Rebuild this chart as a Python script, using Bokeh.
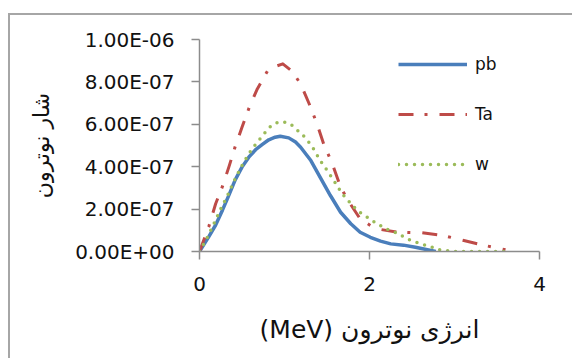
from bokeh.plotting import figure
from bokeh.models import Legend, LegendItem, CustomJSTickFormatter, FixedTicker, Range1d
from bokeh.embed import file_html
from bokeh.resources import INLINE

# ---- data, y values in units of 1e-7 ----
UNIT = 1e-7
pb_x = [0, 0.11, 0.19, 0.27, 0.345, 0.42, 0.50, 0.58, 0.66, 0.74, 0.815, 0.89, 0.95, 1.05, 1.13,
        1.19, 1.31, 1.42, 1.54, 1.66, 1.78, 1.89, 2.01, 2.13, 2.25, 2.40, 2.54, 2.78]
pb_y = [0, 0.70, 1.25, 1.95, 2.65, 3.38, 3.98, 4.45, 4.80, 5.05, 5.27, 5.39, 5.44, 5.36, 5.16,
        4.92, 4.29, 3.50, 2.64, 1.85, 1.31, 0.91, 0.67, 0.49, 0.36, 0.30, 0.20, 0]

ta_x = [0, 0.11, 0.19, 0.27, 0.345, 0.42, 0.50, 0.59, 0.68, 0.815, 0.98, 1.09, 1.19, 1.29, 1.38,
        1.46, 1.56, 1.66, 1.76, 1.89, 2.01, 2.13, 2.33, 2.62, 2.87, 3.11, 3.36, 3.60]
ta_y = [0, 1.18, 2.25, 3.07, 3.98, 4.95, 5.86, 6.85, 7.67, 8.62, 8.85, 8.50, 7.90, 6.97, 6.05,
        5.08, 4.17, 3.03, 2.33, 1.54, 1.23, 1.04, 0.91, 0.88, 0.75, 0.52, 0.28, 0.08]

w_x = [0, 0.09, 0.17, 0.25, 0.33, 0.40, 0.49, 0.58, 0.65, 0.73, 0.815, 0.89, 0.98, 1.07, 1.13,
       1.21, 1.27, 1.33, 1.42, 1.48, 1.58, 1.68, 1.80, 1.87, 2.03, 2.19, 2.33, 2.44, 2.53, 2.62,
       2.71, 2.80, 2.89, 2.99, 3.64]
w_y = [0, 0.65, 1.31, 2.01, 2.64, 3.27, 3.98, 4.61, 5.00, 5.40, 5.83, 6.05, 6.13, 6.02, 5.79,
       5.52, 5.24, 4.92, 4.29, 3.95, 3.35, 2.72, 2.17, 1.89, 1.46, 1.07, 0.86, 0.60, 0.47, 0.34,
       0.25, 0.09, 0.05, 0, 0]

x_ticks = [0, 2, 4]
y_ticks = [0, 2e-7, 4e-7, 6e-7, 8e-7, 1e-6]
series_names = ["pb", "Ta", "w"]
x_title = "(MeV) انرژی نوترون"
y_title = "شار نوترون"

TEXT = "#111111"
AXIS = "#8c8c8c"
FONT = "'DejaVu Sans'"

p = figure(width=564, height=345, output_backend="svg", toolbar_location=None,
           x_range=Range1d(0, 4), y_range=Range1d(0, 1e-6),
           min_border_left=189, min_border_right=35, min_border_top=24, min_border_bottom=109)
p.styles = {"border-top": "2px solid #a6a6a6", "border-left": "2px solid #a6a6a6",
            "margin-left": "8px", "margin-top": "13px"}
p.outline_line_color = None
p.xgrid.visible = False
p.ygrid.visible = False

r_pb = p.line(pb_x, [v * UNIT for v in pb_y], line_color="#4a7ebb", line_width=3.5,
              line_join="round")
r_ta = p.line(ta_x, [v * UNIT for v in ta_y], line_color="#be4b48", line_width=3,
              line_dash="15 11 3 12", line_join="round")
r_w = p.line(w_x, [v * UNIT for v in w_y], line_color="#9bbb59", line_width=3.5,
             line_dash="0 8", line_cap="round", line_join="round")

fmt = CustomJSTickFormatter(code="""
const s = tick.toExponential(2).split('e');
let e = parseInt(s[1]);
const sign = e < 0 ? '-' : '+';
e = Math.abs(e);
return s[0] + 'E' + sign + (e < 10 ? '0' : '') + e;
""")

for ax in (p.xaxis[0], p.yaxis[0]):
    ax.axis_line_color = AXIS
    ax.axis_line_width = 1.5
    ax.major_tick_line_color = AXIS
    ax.major_tick_line_width = 1.5
    ax.major_tick_in = 0
    ax.major_tick_out = 8
    ax.minor_tick_line_color = None
    ax.major_label_text_font = FONT
    ax.major_label_text_font_size = "20px"
    ax.major_label_text_color = TEXT
    ax.axis_label_text_font = FONT
    ax.axis_label_text_font_style = "normal"
    ax.axis_label_text_color = TEXT

p.xaxis[0].ticker = FixedTicker(ticks=x_ticks)
p.yaxis[0].ticker = FixedTicker(ticks=y_ticks)
p.yaxis[0].formatter = fmt
p.xaxis[0].major_label_standoff = 17
p.yaxis[0].major_label_standoff = 17
p.xaxis[0].axis_label = x_title
p.yaxis[0].axis_label = y_title
p.xaxis[0].axis_label_text_font_size = "25px"
p.yaxis[0].axis_label_text_font_size = "22px"
p.xaxis[0].axis_label_standoff = 21
p.yaxis[0].axis_label_standoff = 18

legend = Legend(items=[LegendItem(label=series_names[0], renderers=[r_pb]),
                       LegendItem(label=series_names[1], renderers=[r_ta]),
                       LegendItem(label=series_names[2], renderers=[r_w])],
                location=(199, 77), orientation="vertical",
                glyph_width=69, glyph_height=20, label_height=20, spacing=30,
                label_standoff=8, padding=0, margin=0,
                border_line_color=None, background_fill_alpha=0,
                label_text_font=FONT, label_text_font_size="17px", label_text_color=TEXT)
p.add_layout(legend)

open("out.html", "w").write(file_html(p, INLINE))
